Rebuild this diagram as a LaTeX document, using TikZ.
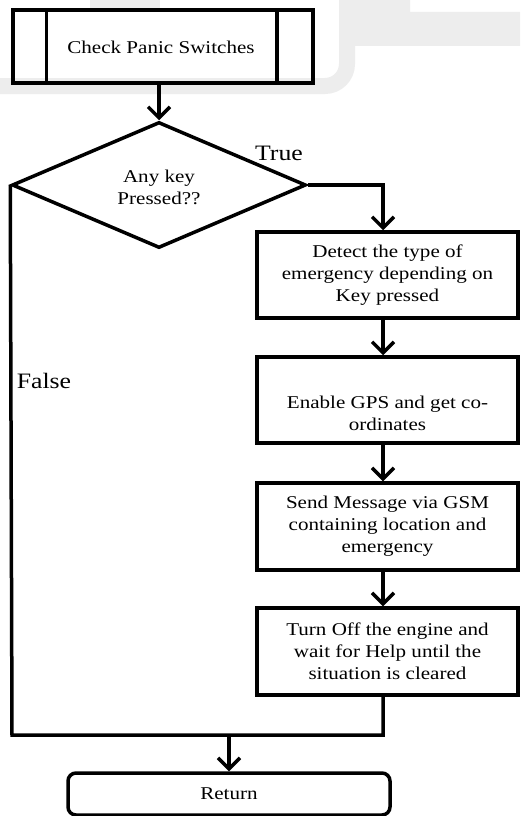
\documentclass[tikz,border=0pt]{standalone}
\usepackage{fontspec}
\setmainfont{Liberation Serif}[FakeStretch=1.17]
\usetikzlibrary{shapes.geometric,arrows.meta}
\begin{document}
\begin{tikzpicture}[x=1pt,y=-1pt,
  line width=3.5pt,
  arr/.style={-{Straight Barb[length=11pt,width=22pt,line width=3.5pt]}},
  txt/.style={font=\fontsize{18}{22}\selectfont, align=center},
  lbl/.style={font=\fontsize{22}{26}\selectfont, inner sep=0pt},
  stepbox/.style={draw, rectangle, minimum width=261pt, minimum height=86pt, inner sep=0pt, txt},
]
\useasboundingbox (0,0) rectangle (520,816);
\fill[white] (0,0) rectangle (520,816);

% faint background marks
\begin{scope}[gray!14, line width=16pt]
  \draw (0,86) -- (325,86) arc[start angle=90, end angle=0, radius=22] -- (347,0);
  \draw (90,3) -- (160,3);
\end{scope}
\fill[gray!14] (352,0) -- (410,0) -- (410,12) -- (520,12) -- (520,46) -- (352,46) -- cycle;

% start: predefined process
\node[draw, rectangle, minimum width=300pt, minimum height=73pt, inner sep=0pt, txt] (chk) at (163,46.5) {};
\draw ([xshift=35pt]chk.north west) -- ([xshift=35pt]chk.south west);
\draw ([xshift=-38pt]chk.north east) -- ([xshift=-38pt]chk.south east);
\node[txt] (chktxt) at (161,47) {Check Panic Switches};

% decision
\node[draw, diamond, minimum width=294pt, minimum height=126pt, inner sep=0pt, aspect=2.33, txt] (dec) at (159,185) {};
\node[txt] (dectxt) at (159,187) {Any key\\Pressed??};

% steps
\node[stepbox] (b1) at (387.5,275) {Detect the type of\\emergency depending on\\Key pressed};
\node[stepbox] (b2) at (387.5,400) {};
\node[txt] (b2txt) at (387.5,413) {Enable GPS and get co-\\ordinates};
\node[stepbox, minimum height=87pt] (b3) at (387.5,526.5) {Send Message via GSM\\containing location and\\emergency};
\node[stepbox, minimum height=87pt] (b4) at (387.5,651.5) {Turn Off the engine and\\wait for Help until the\\situation is cleared};

% end
\node[draw, rectangle, rounded corners=8pt, minimum width=322pt, minimum height=42pt, inner sep=0pt, txt] (ret) at (229,794) {Return};

% helper coordinates
\coordinate (colx) at (383,0);
\coordinate (jl) at (12,735);
\coordinate (jm) at (229,735);

% connectors
\draw[arr] (chk.south -| dec.north) -- (dec.north);
\draw[arr] (dec.east) -| (b1.north -| colx);
\draw[arr] (b1.south -| colx) -- (b2.north -| colx);
\draw[arr] (b2.south -| colx) -- (b3.north -| colx);
\draw[arr] (b3.south -| colx) -- (b4.north -| colx);
\draw (b4.south -| colx) |- (jl) -- (dec.west);
\draw[arr] (jm) -- (ret.north);

% branch labels
\node[lbl] (ltrue) at (279,153) {True};
\node[lbl] (lfalse) at (44,381) {False};
\end{tikzpicture}
\end{document}
